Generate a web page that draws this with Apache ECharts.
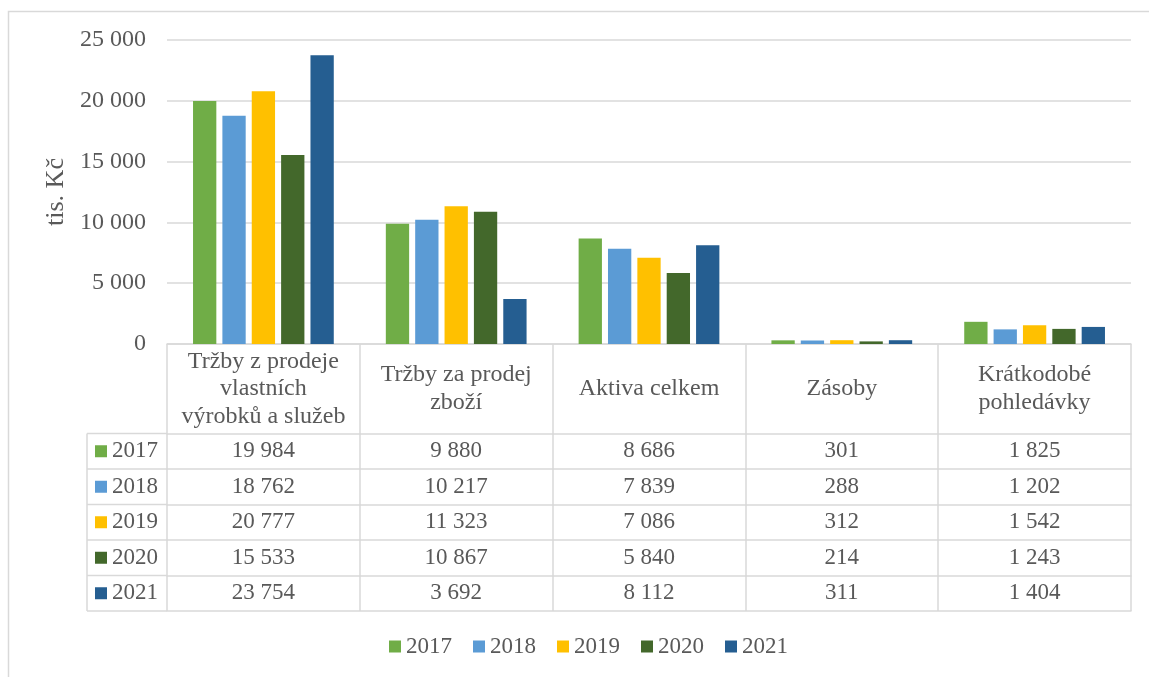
<!DOCTYPE html>
<html>
<head>
<meta charset="utf-8">
<script src="https://cdn.jsdelivr.net/npm/echarts@6/dist/echarts.min.js"></script>
<style>
html,body{margin:0;padding:0;background:#fff;}
#chart{width:1149px;height:677px;}
</style>
</head>
<body>
<div id="chart"></div>
<script>
const categories = ['Tržby z prodeje\nvlastních\nvýrobků a služeb', 'Tržby za prodej\nzboží', 'Aktiva celkem', 'Zásoby', 'Krátkodobé\npohledávky'];
const years = ['2017', '2018', '2019', '2020', '2021'];
const v2017 = [19984, 9880, 8686, 301, 1825];
const v2018 = [18762, 10217, 7839, 288, 1202];
const v2019 = [20777, 11323, 7086, 312, 1542];
const v2020 = [15533, 10867, 5840, 214, 1243];
const v2021 = [23754, 3692, 8112, 311, 1404];
const seriesValues = [v2017, v2018, v2019, v2020, v2021];
const yAxisName = 'tis. Kč';

const colors = ['#70AD47', '#5B9BD5', '#FFC000', '#43682B', '#255E91'];
const FONT = '"Liberation Serif", "Times New Roman", serif';
const TXT = '#595959';
const LINE = '#d9d9d9';
const FS = 23;

const W = 1149, H = 677;
const GL = 167, GR = 1131, GT = 40, GB = 344;
const HEADER_H = 89.5;
const ROW_H = 35.5;
const TABLE_LEFT = 87;
const TABLE_BOTTOM = GB + HEADER_H + ROW_H * years.length;

const fmt = n => String(n).replace(/\B(?=(\d{3})+(?!\d))/g, ' ');

const xAxes = [{
  type: 'category',
  data: categories,
  position: 'bottom',
  axisLine: { show: true, lineStyle: { color: LINE, width: 1.5 } },
  axisTick: { show: true, length: TABLE_BOTTOM - GB, interval: 0, lineStyle: { color: LINE, width: 1.5 } },
  axisLabel: {
    interval: 0, margin: HEADER_H / 2, verticalAlign: 'middle', align: 'center',
    fontFamily: FONT, fontSize: 24, color: TXT, lineHeight: 27.5
  },
  splitLine: { show: false }
}];
seriesValues.forEach((vals, i) => {
  xAxes.push({
    type: 'category',
    data: vals.map(fmt),
    position: 'bottom',
    offset: HEADER_H + i * ROW_H,
    axisLine: { show: true, lineStyle: { color: LINE, width: 1.5 } },
    axisTick: { show: false },
    axisLabel: { interval: 0, margin: ROW_H / 2, verticalAlign: 'middle', align: 'center', fontFamily: FONT, fontSize: FS, color: TXT },
    splitLine: { show: false }
  });
});
xAxes.push({
  type: 'category',
  data: categories,
  position: 'bottom',
  offset: TABLE_BOTTOM - GB,
  axisLine: { show: true, lineStyle: { color: LINE, width: 1.5 } },
  axisTick: { show: false },
  axisLabel: { show: false },
  splitLine: { show: false }
});

const graphics = [
  { type: 'rect', shape: { x: 8.5, y: 11.5, width: W + 20, height: H + 20 }, style: { fill: 'none', stroke: LINE, lineWidth: 1.5 }, silent: true, z: -1 },
  { type: 'line', shape: { x1: TABLE_LEFT, y1: GB + HEADER_H, x2: TABLE_LEFT, y2: TABLE_BOTTOM }, style: { stroke: LINE, lineWidth: 1.5 } }
];
for (let i = 0; i <= years.length; i++) {
  const y = GB + HEADER_H + i * ROW_H;
  graphics.push({ type: 'line', shape: { x1: TABLE_LEFT, y1: y, x2: GL, y2: y }, style: { stroke: LINE, lineWidth: 1.5 } });
}
years.forEach((yr, i) => {
  const cy = GB + HEADER_H + (i + 0.5) * ROW_H;
  graphics.push({ type: 'rect', shape: { x: 95, y: cy - 6, width: 12, height: 12 }, style: { fill: colors[i] } });
  graphics.push({ type: 'text', x: 112, y: cy, style: { text: yr, font: FS + 'px ' + FONT, fill: TXT, verticalAlign: 'middle', align: 'left' } });
});

const option = {
  animation: false,
  color: colors,
  grid: { left: GL, right: W - GR, top: GT, bottom: H - GB, containLabel: false },
  xAxis: xAxes,
  yAxis: {
    type: 'value', min: 0, max: 25000, interval: 5000,
    name: yAxisName, nameLocation: 'middle', nameRotate: 90, nameGap: 98,
    nameTextStyle: { fontFamily: FONT, fontSize: 26, color: TXT },
    axisLine: { show: false }, axisTick: { show: false },
    axisLabel: { formatter: v => fmt(v), fontFamily: FONT, fontSize: 24, color: TXT, margin: 21 },
    splitLine: { show: true, lineStyle: { color: LINE, width: 1.5 } }
  },
  legend: {
    data: years, left: 384, top: 630, itemWidth: 12, itemHeight: 12, itemGap: 21,
    icon: 'rect', textStyle: { fontFamily: FONT, fontSize: FS, color: TXT }
  },
  series: years.map((yr, i) => ({
    name: yr, type: 'bar', data: seriesValues[i],
    barCategoryGap: '27%', barGap: '26%',
    itemStyle: { color: colors[i] }
  })),
  graphic: graphics
};

const chart = echarts.init(document.getElementById('chart'), null, { renderer: 'canvas' });
chart.setOption(option);
</script>
</body>
</html>
